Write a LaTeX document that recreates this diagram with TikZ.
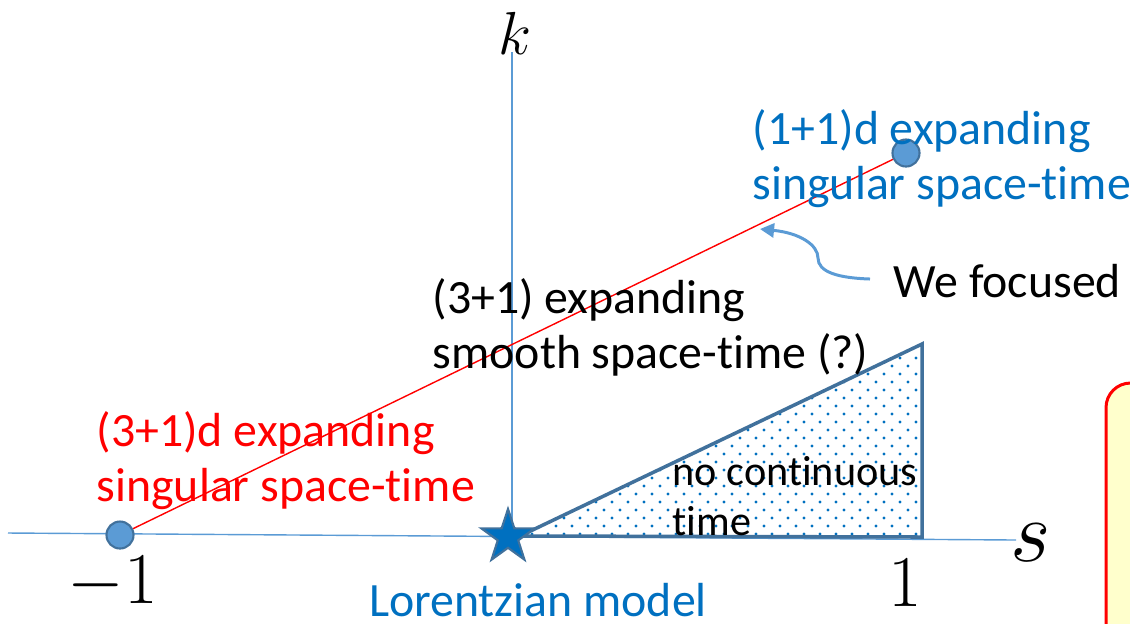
\documentclass[tikz,border=0pt]{standalone}
\usepackage[no-math]{fontspec}
\setmainfont{Carlito}[Ligatures=NoCommon]
\usetikzlibrary{shapes.geometric,arrows.meta}
\definecolor{axisblue}{RGB}{91,155,213}
\definecolor{textblue}{RGB}{0,112,192}
\definecolor{edgeblue}{RGB}{65,113,156}
\definecolor{noteyellow}{RGB}{255,255,204}
\begin{document}
\begin{tikzpicture}[x=0.01cm, y=-0.01cm,
    txt/.style={inner sep=0pt, align=left, font=\fontsize{13.6}{15.6}\selectfont},
    lbl/.style={inner sep=0pt, font=\fontsize{17.28}{20}\selectfont},
    pt/.style={circle, draw=edgeblue, fill=axisblue, line width=0.6pt, minimum size=0.27cm, inner sep=0pt}]
        \useasboundingbox (0,0) rectangle (1130,623);

        % axes
        \coordinate (sL) at (8,533);
        \coordinate (sR) at (1016,540);
        \coordinate (kB) at (512,540);
        \coordinate (kT) at (512,52);
        \draw[axisblue, line width=0.4pt] (sL) -- (sR);
        \draw[axisblue, line width=0.4pt] (kB) -- (kT);
        \node[lbl] (klbl) at (515,33) {$k$};
        \node[lbl, font=\fontsize{24.88}{28}\selectfont] (slbl) at (1031,543) {$s$};
        \node[lbl, font=\fontsize{20.74}{24}\selectfont] (mone) at (113,583) {$-1$};
        \node[lbl, font=\fontsize{20.74}{24}\selectfont] (one) at (905,583) {$1$};

        % no continuous time region
        \coordinate (t0) at (520,536);
        \coordinate (t1) at (922,344);
        \coordinate (t2) at (922,537);
        \begin{scope}
            \clip (t0) -- (t1) -- (t2) -- cycle;
            \foreach \r in {0,...,24} {
                \foreach \c in {0,...,25} {
                    \fill[textblue] ({524+16*\c+8*mod(\r,2)}, {350+8*\r}) circle[radius=0.45pt];
                }
            }
        \end{scope}
        \draw[edgeblue, line width=1pt] (t0) -- (t1) -- (t2) -- cycle;
        \node[txt, anchor=west, font=\fontsize{12}{14.2}\selectfont] (nocont) at (672,496) {no continuous\\time};

        % singular line
        \node[pt] (mpt) at (120,535) {};
        \node[pt] (ppt) at (906,153) {};
        \draw[red, line width=0.4pt] (mpt) -- (ppt);

        \node[star, star points=5, star point ratio=2.6, fill=textblue, draw=edgeblue,
              line width=0.6pt, minimum size=0.56cm, inner sep=0pt] (lor) at (508,537) {};

        \node[txt, textblue, anchor=west] (oneone) at (752,159) {(1+1)d expanding\\singular space-time};
        \node[txt, anchor=west] (smooth) at (432,327) {(3+1) expanding\\smooth space-time (?)};
        \node[txt, red, anchor=west] (threeone) at (96,461) {(3+1)d expanding\\singular space-time};
        \node[txt, textblue] (lorentz) at (538,600) {Lorentzian model};
        \node[txt, anchor=west] (focus) at (893,281) {We focused};

        \coordinate (tail) at (870,279);
        \coordinate (hit) at (760,229);
        \draw[axisblue, line width=0.85pt, -{Triangle[length=4pt, width=4pt]}]
            (tail) .. controls (838,278) and (818,272) .. (818,258)
            .. controls (818,245) and (800,233) .. (hit);

        % note box at the edge
        \begin{scope}
            \clip (0,0) rectangle (1130,623);
            \draw[red, line width=0.85pt, fill=noteyellow, rounded corners=7pt] (1106,383) rectangle (1180,700);
        \end{scope}
    \end{tikzpicture}
\end{document}
